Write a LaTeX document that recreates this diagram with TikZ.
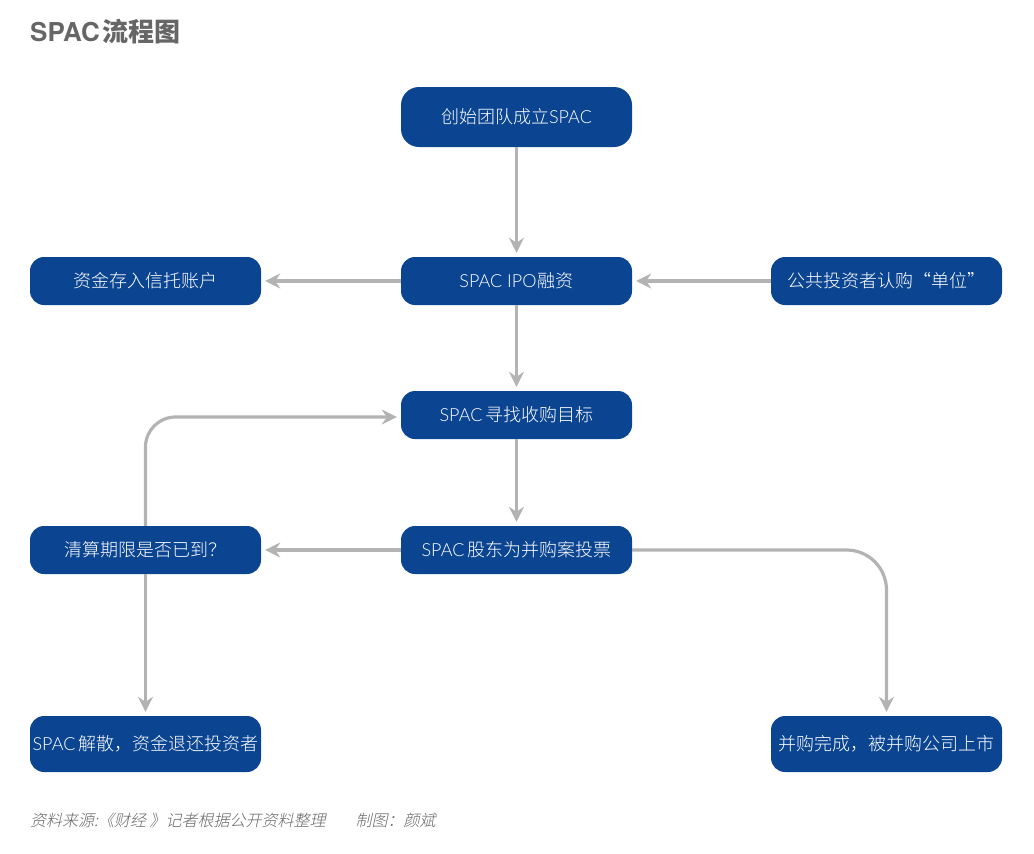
\documentclass[tikz,border=0pt]{standalone}
\usepackage{fontspec}
\setmainfont{Noto Sans CJK SC}
\newfontfamily\cjklight{Noto Sans CJK SC Light}
\newfontfamily\cjkslant{Noto Sans CJK SC Light}[FakeSlant=0.22]
\newfontfamily\lat{TeX Gyre Heros}
\newfontfamily\latlight{Lato Light}
\usetikzlibrary{arrows.meta}
\definecolor{boxblue}{HTML}{0B4592}
\definecolor{arrgray}{HTML}{B3B3B3}
\definecolor{titlegray}{HTML}{666666}
\tikzset{
  flowbox/.style={fill=boxblue, text=white, rounded corners=14pt, minimum width=231pt, minimum height=48pt, inner sep=0pt, font=\fontsize{18}{21}\selectfont\cjklight},
  arr/.style={draw=arrgray, line width=3.2pt, -{Stealth[length=15pt,width=15pt,inset=5pt]}, shorten >=4pt}
}
\newcommand{\spactxt}{{\latlight SPAC}}
\begin{document}
\begin{tikzpicture}[x=1pt,y=-1pt]
\useasboundingbox (0,0) rectangle (1034,854);
\node[anchor=west, text=titlegray, font=\fontsize{26}{28}\selectfont\bfseries, inner sep=0pt] (title) at (30,32) {{\lat\bfseries SPAC}\hspace{3pt}流程图};
\node[flowbox, minimum height=60pt, rounded corners=18pt] (found) at (516.5,117) {创始团队成立\spactxt};
\node[flowbox] (ipo) at (516.5,281) {{\latlight SPAC IPO}\hspace{1pt}融资};
\node[flowbox] (trust) at (145.5,281) {资金存入信托账户};
\node[flowbox] (pub) at (886.5,281) {公共投资者认购“单位”};
\node[flowbox] (find) at (516.5,415) {\spactxt\hspace{3pt}寻找收购目标};
\node[flowbox] (vote) at (516.5,550) {\spactxt\hspace{3pt}股东为并购案投票};
\node[flowbox] (clear) at (145.5,550) {清算期限是否已到？};
\node[flowbox, minimum height=56pt] (dissolve) at (145.5,744) {\spactxt\hspace{3pt}解散，资金退还投资者};
\node[flowbox, minimum height=56pt] (done) at (886.5,744) {并购完成，被并购公司上市};
\node[anchor=west, text=titlegray, font=\fontsize{16}{18}\selectfont\cjkslant, inner sep=0pt] (foot) at (30,820) {资料来源:《财经 》记者根据公开资料整理\hspace{30pt}制图：颜斌};
\draw[arr] (found) -- (ipo);
\draw[arr] (ipo) -- (trust);
\draw[arr] (pub) -- (ipo);
\draw[arr] (ipo) -- (find);
\draw[arr] (find) -- (vote);
\draw[arr] (vote) -- (clear);
\draw[arr] (clear) -- (dissolve);
\draw[arr, rounded corners=30pt] (clear.north) |- ([yshift=-2pt]find.west);
\draw[arr, rounded corners=40pt] (vote.east) -| (done.north);
\end{tikzpicture}
\end{document}
